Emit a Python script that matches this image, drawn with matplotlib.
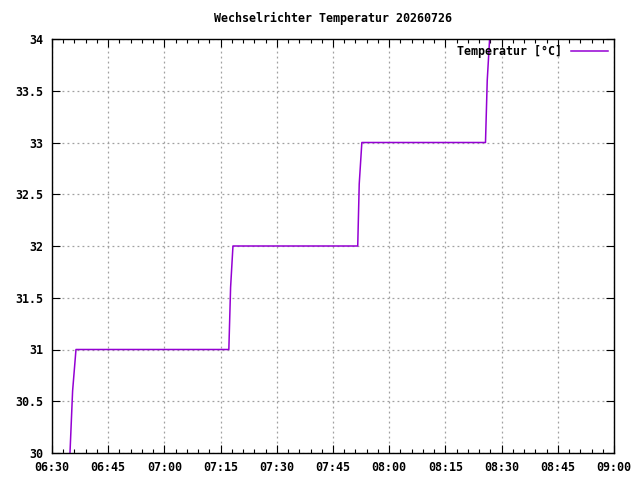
import matplotlib
matplotlib.use("Agg")
import matplotlib.pyplot as plt
import matplotlib.dates as mdates
import numpy as np
import datetime as dt

# Data (time strings, temperature)
times = ["06:34:48", "06:35:30", "06:36:24", "07:17:12", "07:17:40", "07:18:18",
         "07:51:36", "07:52:00", "07:52:42", "08:25:42", "08:26:10", "08:26:48"]
temps = [30.0, 30.6, 31.0, 31.0, 31.6, 32.0, 32.0, 32.6, 33.0, 33.0, 33.6, 34.0]
x_start = "06:30"
x_end = "09:00"
title = "Wechselrichter Temperatur 20260726"
legend_label = "Temperatur [°C]"

day = dt.date(2026, 7, 26)
def t(s):
    parts = [int(p) for p in s.split(":")]
    while len(parts) < 3:
        parts.append(0)
    return dt.datetime.combine(day, dt.time(*parts))

xs = [t(s) for s in times]

plt.rcParams['font.family'] = ['DejaVu Sans Mono']
plt.rcParams['font.weight'] = 'bold'
fs = 8.4

fig = plt.figure(figsize=(6.4, 4.8), dpi=100)
ax = fig.add_axes([52/640, 27/480, 562/640, 414/480])
ax.plot(xs, temps, color="#9400d3", lw=1.1, label=legend_label)
ax.set_xlim(t(x_start), t(x_end))
ax.set_ylim(30, 34)

ax.xaxis.set_major_locator(mdates.MinuteLocator(byminute=[0, 15, 30, 45]))
ax.xaxis.set_minor_locator(mdates.MinuteLocator(byminute=range(0, 60, 3)))
ax.xaxis.set_major_formatter(mdates.DateFormatter("%H:%M"))
ax.set_yticks(np.arange(30, 34.01, 0.5))
ax.set_yticklabels([f"{v:g}" for v in np.arange(30, 34.01, 0.5)])

ax.tick_params(which='both', direction='in', top=True, right=True, labelsize=fs, color='black')
ax.tick_params(which='major', length=6, width=0.8, pad=6)
ax.tick_params(which='minor', length=3, width=0.8)
ax.tick_params(axis='y', which='minor', left=False, right=False)
for sp in ax.spines.values():
    sp.set_linewidth(1.0)
    sp.set_color('black')

ax.grid(True, which='major', color='#a0a0a0', linestyle=(0, (1.5, 2.5)), linewidth=0.9)

ax.set_title(title, fontsize=fs, pad=12, fontweight='bold')
leg = ax.legend(loc='upper right', frameon=False, markerfirst=False, fontsize=fs,
                handlelength=3.2, borderaxespad=0.1, handletextpad=0.8)

fig.savefig("out.png", dpi=100)
